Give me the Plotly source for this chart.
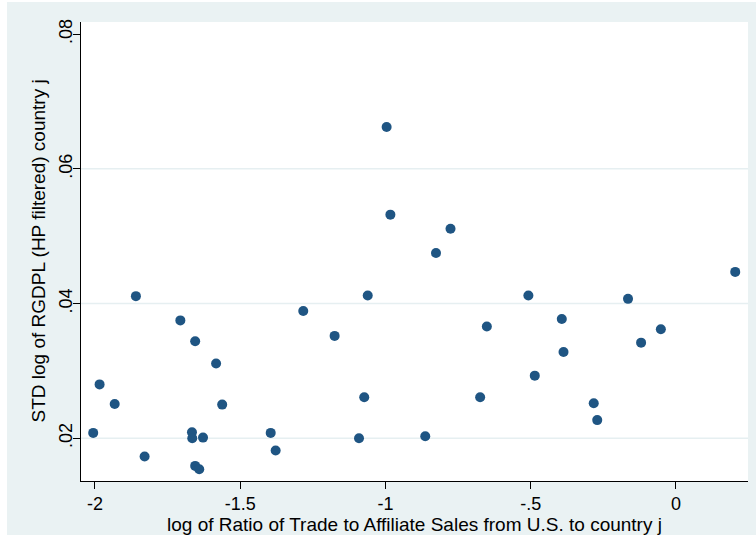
import plotly.graph_objects as go

# log of ratio of trade to affiliate sales (US -> country j)
trade_ratio = [
    -2.006, -1.984, -1.932, -1.859, -1.829, -1.706, -1.666, -1.665, -1.655, -1.655,
    -1.641, -1.628, -1.583, -1.562, -1.395, -1.378, -1.283, -1.175, -1.091, -1.073,
    -1.061, -0.996, -0.983, -0.863, -0.826, -0.776, -0.674, -0.651, -0.508, -0.486,
    -0.393, -0.387, -0.283, -0.271, -0.165, -0.120, -0.052, 0.204,
]
# STD of log RGDPL (HP filtered), country j
std_rgdpl = [
    0.0208, 0.0280, 0.0251, 0.0411, 0.0173, 0.0375, 0.0209, 0.0200, 0.0344, 0.0159,
    0.0154, 0.0201, 0.0311, 0.0250, 0.0208, 0.0182, 0.0389, 0.0352, 0.0200, 0.0261,
    0.0412, 0.0662, 0.0532, 0.0203, 0.0475, 0.0511, 0.0261, 0.0366, 0.0412, 0.0293,
    0.0377, 0.0328, 0.0252, 0.0227, 0.0407, 0.0342, 0.0362, 0.0447,
]

x_ticks = [-2, -1.5, -1, -0.5, 0]
x_labels = ["-2", "-1.5", "-1", "-.5", "0"]
y_ticks = [0.02, 0.04, 0.06, 0.08]
y_labels = [".02", ".04", ".06", ".08"]
y_grid = [0.02, 0.04, 0.06]

x_title = "log of Ratio of Trade to Affiliate Sales from U.S. to country j"
y_title = "STD log of RGDPL (HP filtered) country j"

W, H = 756, 535
ML, MR, MT, MB = 81, 8, 22, 54
PW, PH = W - ML - MR, H - MT - MB

BG = "#EAF2F3"
FONT = "Liberation Sans, Arial, sans-serif"
FS_TICK = 18
FS_TITLE = 19

fig = go.Figure(
    go.Scatter(
        x=trade_ratio,
        y=std_rgdpl,
        mode="markers",
        marker=dict(size=10, color="#1F5583", line=dict(width=0)),
        hoverinfo="x+y",
    )
)

shapes = []
# horizontal grid lines
for g in y_grid:
    shapes.append(dict(type="line", xref="paper", x0=0, x1=1, yref="y", y0=g, y1=g,
                       line=dict(color="#E6EFF1", width=1.5), layer="below"))
# white strips at the outer left and top edges of the canvas
shapes.append(dict(type="rect", xref="paper", yref="paper",
                   x0=-ML / PW, x1=(7 - ML) / PW, y0=-MB / PH, y1=1 + MT / PH,
                   fillcolor="white", line=dict(width=0), layer="below"))
shapes.append(dict(type="rect", xref="paper", yref="paper",
                   x0=-ML / PW, x1=1 + MR / PW, y0=1 + (MT - 2) / PH, y1=1 + MT / PH,
                   fillcolor="white", line=dict(width=0), layer="below"))

annotations = [
    dict(text=x_title, xref="paper", yref="paper", x=0.5, y=-(524 - (MT + PH)) / PH,
         xanchor="center", yanchor="middle", showarrow=False,
         font=dict(family=FONT, size=FS_TITLE, color="black")),
    dict(text=y_title, xref="paper", yref="paper", x=-(ML - 38) / PW, y=0.5,
         xanchor="center", yanchor="middle", showarrow=False, textangle=-90,
         font=dict(family=FONT, size=FS_TITLE, color="black")),
]

fig.update_layout(
    width=W, height=H,
    margin=dict(l=ML, r=MR, t=MT, b=MB, pad=0),
    paper_bgcolor=BG,
    plot_bgcolor="white",
    showlegend=False,
    shapes=shapes,
    annotations=annotations,
    font=dict(family=FONT, size=FS_TICK, color="black"),
    xaxis=dict(
        range=[-2.048, 0.248], tickvals=x_ticks, ticktext=x_labels,
        showgrid=False, zeroline=False, showline=True, linecolor="black", linewidth=1,
        ticks="outside", ticklen=7, tickcolor="black", tickwidth=1,
        tickfont=dict(family=FONT, size=FS_TICK), automargin=False,
        ticklabelstandoff=-1,
    ),
    yaxis=dict(
        range=[0.01366, 0.0818], tickvals=y_ticks, ticktext=y_labels,
        showgrid=False, zeroline=False, showline=True, linecolor="black", linewidth=1,
        ticks="outside", ticklen=7, tickcolor="black", tickwidth=1, tickangle=-90,
        tickfont=dict(family=FONT, size=FS_TICK), automargin=False,
        ticklabelstandoff=-6,
    ),
)

fig.write_html("out.html")
